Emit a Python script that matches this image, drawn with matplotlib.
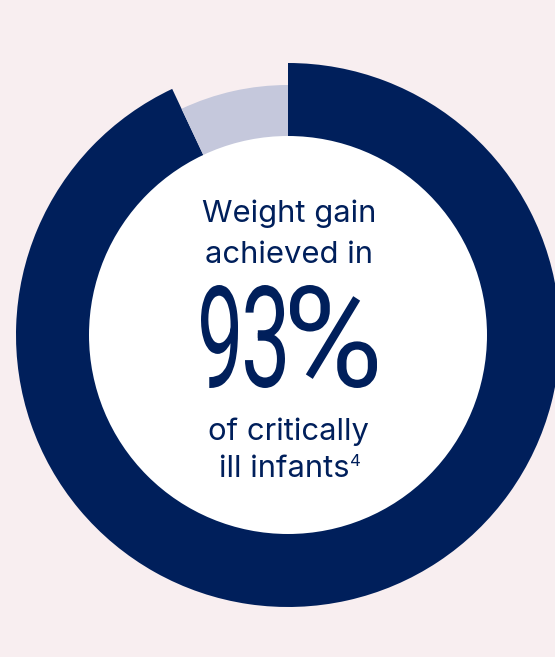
import matplotlib.pyplot as plt
from matplotlib.textpath import TextPath
from matplotlib.font_manager import FontProperties
from matplotlib.patches import PathPatch, Circle
from matplotlib.transforms import Affine2D

# donut data
shares = [93, 7]
big_label = '93%'
headline = ['Weight gain', 'achieved in']
footline = ['of critically', 'ill infants']
footnote = '4'

navy = '#001f5b'
lilac = '#c5c8dc'
bg = '#f8eef0'

W, H = 555, 657
fig = plt.figure(figsize=(W / 100, H / 100), dpi=100, facecolor=bg)
ax = fig.add_axes([0, 0, 1, 1])
ax.set_facecolor(bg)

cx, cy = 288, H - 335

# outer navy ring (93%), remainder left empty
ax.pie(shares, startangle=90, counterclock=False, radius=272, center=(cx, cy),
       colors=[navy, 'none'], wedgeprops=dict(linewidth=0))
# thinner lilac remainder (7%)
ax.pie(shares, startangle=90, counterclock=False, radius=250, center=(cx, cy),
       colors=['none', lilac], wedgeprops=dict(linewidth=0))
ax.add_patch(Circle((cx, cy), 199, color='white', lw=0, zorder=3))

ax.set_xlim(0, W)
ax.set_ylim(0, H)
ax.set_aspect('equal')
ax.axis('off')

font = 'Inter'
fs = 22.3
for txt, base in zip(headline, [222, 263]):
    ax.text(cx + 1, H - base, txt, ha='center', va='baseline', fontsize=fs,
            family=font, color=navy, zorder=4)

# tall condensed "93%": each glyph path squeezed into its own box
fp = FontProperties(family='Roboto', weight='normal')
boxes = [(201, 238), (245, 285), (290, 377)]
top, bottom = 285, 388
for ch, (x0, x1) in zip(big_label, boxes):
    tp = TextPath((0, 0), ch, size=100, prop=fp)
    ext = tp.get_extents()
    tr = (Affine2D().translate(-ext.x0, -ext.y0)
          .scale((x1 - x0) / ext.width, (bottom - top) / ext.height)
          .translate(x0, H - bottom))
    ax.add_patch(PathPatch(tr.transform_path(tp), facecolor=navy, lw=0, zorder=4))

ax.text(cx, H - 440, footline[0], ha='center', va='baseline', fontsize=fs,
        family=font, color=navy, zorder=4)
t2 = ax.text(cx - 4, H - 477, footline[1], ha='center', va='baseline', fontsize=fs,
             family=font, color=navy, zorder=4)
ax.annotate(footnote, xy=(1, 1), xycoords=t2, xytext=(0.3, 1), textcoords='offset points',
            ha='left', va='top', fontsize=12, family=font, color=navy, zorder=4)

fig.savefig('out.png', dpi=100, facecolor=bg)
